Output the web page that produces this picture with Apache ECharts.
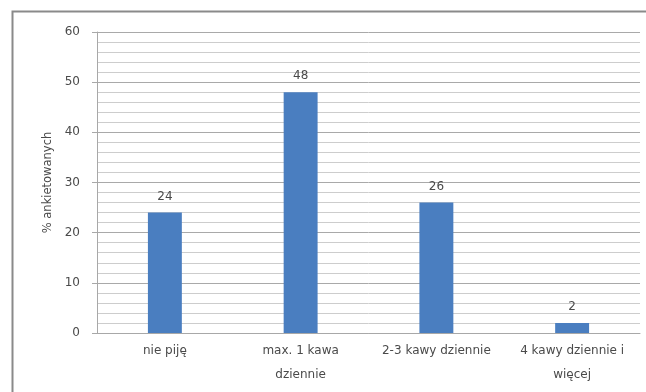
<!DOCTYPE html>
<html>
<head>
<meta charset="utf-8">
<script src="https://cdn.jsdelivr.net/npm/echarts@6/dist/echarts.min.js"></script>
<style>
  html, body { margin: 0; padding: 0; background: #ffffff; }
  #chart { width: 646px; height: 392px; }
</style>
</head>
<body>
<div id="chart"></div>
<script>
// Coffee consumption survey: share of respondents per answer
const categories = ['nie piję', 'max. 1 kawa\ndziennie', '2-3 kawy dziennie', '4 kawy dziennie i\nwięcej'];
const percentValues = [24, 48, 26, 2];
const yAxisTitle = '% ankietowanych';

const chart = echarts.init(document.getElementById('chart'));

const textColor = '#4a4a4a';
const fontFamily = '"DejaVu Sans", sans-serif';

chart.setOption({
  animation: false,
  backgroundColor: '#ffffff',
  graphic: [{
    type: 'rect',
    shape: { x: 12.5, y: 11.5, width: 700, height: 420 },
    style: { fill: 'none', stroke: '#8a8a8a', lineWidth: 2 },
    z: -1
  }],
  grid: { left: 97, right: 6, top: 32, bottom: 59 },
  xAxis: {
    type: 'category',
    data: categories,
    axisLine: { show: true, lineStyle: { color: '#a8a8a8' } },
    axisTick: { show: false },
    axisLabel: {
      color: textColor,
      fontFamily: fontFamily,
      fontSize: 12,
      lineHeight: 24,
      margin: 6,
      interval: 0
    }
  },
  yAxis: {
    type: 'value',
    min: 0,
    max: 60,
    interval: 10,
    name: yAxisTitle,
    nameLocation: 'middle',
    nameRotate: 90,
    nameGap: 43,
    nameTextStyle: { color: textColor, fontFamily: fontFamily, fontSize: 11.5 },
    axisLine: { show: true, lineStyle: { color: '#a8a8a8' } },
    axisTick: { show: true, length: 5, lineStyle: { color: '#a8a8a8' } },
    axisLabel: { color: textColor, fontFamily: fontFamily, fontSize: 12, margin: 17 },
    splitLine: { show: true, lineStyle: { color: '#a9a9a9', width: 1 } },
    minorTick: { show: false, splitNumber: 5 },
    minorSplitLine: { show: true, lineStyle: { color: '#cdcdcd', width: 1 } }
  },
  series: [{
    type: 'bar',
    data: percentValues,
    barWidth: '25%',
    itemStyle: { color: '#4a7ec0' },
    label: {
      show: true,
      position: 'top',
      distance: 10,
      color: textColor,
      fontFamily: fontFamily,
      fontSize: 12
    }
  }]
});
</script>
</body>
</html>
